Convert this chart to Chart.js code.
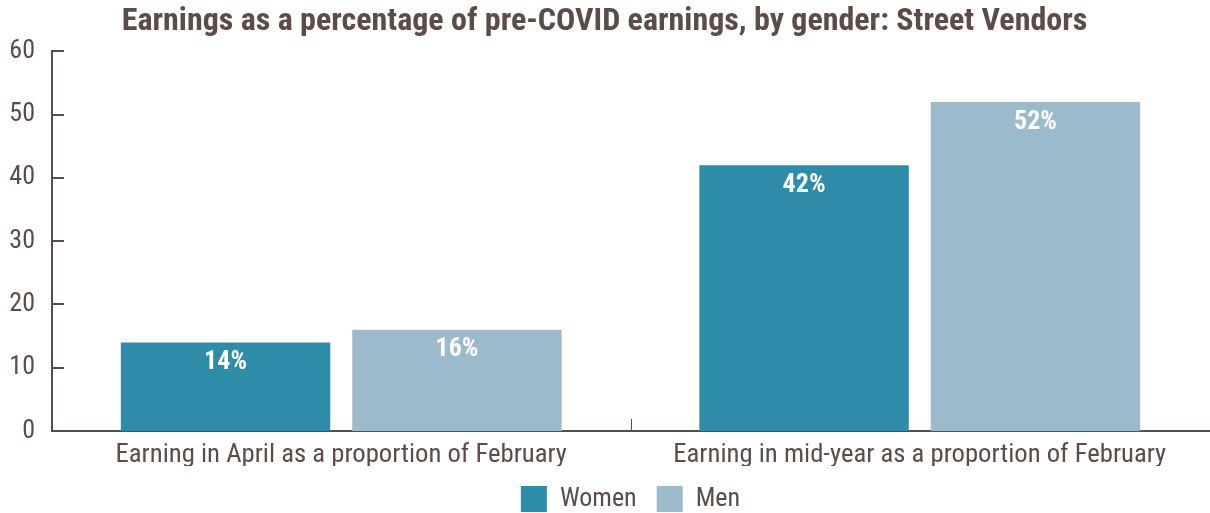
<!DOCTYPE html>
<html>
<head>
<meta charset="utf-8">
<script src="https://cdn.jsdelivr.net/npm/chart.js@4"></script>
<style>
  html, body { margin: 0; padding: 0; background: #fff; }
  #wrap { width: 1210px; height: 513px; }
</style>
</head>
<body>
<div id="wrap"><canvas id="chart"></canvas></div>
<script>
const categories = ["Earning in April as a proportion of February", "Earning in mid-year as a proportion of February"];
const seriesNames = ["Women", "Men"];
const womenValues = [14, 42];
const menValues = [16, 52];
const yTicks = [0, 10, 20, 30, 40, 50, 60];

const textColor = "#5b4c48";
const fontFamily = "'Roboto Condensed', 'Liberation Sans Narrow', Roboto, sans-serif";

// white labels inside the top of each bar, plus inward tick marks
const barLabels = {
  id: "barLabels",
  afterLayout(chart) {
    // legend sits centred under the plot area, not the whole canvas
    chart.legend.left = chart.chartArea.left;
    chart.legend.right = chart.chartArea.right;
  },
  afterDatasetsDraw(chart) {
    const ctx = chart.ctx;
    ctx.save();
    ctx.fillStyle = "#ffffff";
    ctx.font = "bold 26px " + fontFamily;
    ctx.textAlign = "center";
    ctx.textBaseline = "middle";
    chart.data.datasets.forEach((ds, i) => {
      chart.getDatasetMeta(i).data.forEach((bar, j) => {
        ctx.fillText(ds.data[j] + "%", bar.x, bar.y + 20);
      });
    });
    ctx.restore();
  },
  afterDraw(chart) {
    const ctx = chart.ctx;
    const x = chart.scales.x;
    const y = chart.scales.y;
    ctx.save();
    ctx.strokeStyle = textColor;
    ctx.lineWidth = 2;
    yTicks.forEach(v => {
      const py = Math.round(y.getPixelForValue(v));
      ctx.beginPath();
      ctx.moveTo(x.left, py);
      ctx.lineTo(x.left + 12, py);
      ctx.stroke();
    });
    ctx.lineWidth = 1;
    const mid = (x.getPixelForValue(0) + x.getPixelForValue(1)) / 2;
    ctx.beginPath();
    ctx.moveTo(Math.round(mid) + 0.5, y.bottom);
    ctx.lineTo(Math.round(mid) + 0.5, y.bottom - 12);
    ctx.stroke();
    ctx.restore();
  }
};

new Chart(document.getElementById("chart"), {
  type: "bar",
  data: {
    labels: categories,
    datasets: [
      { label: seriesNames[0], data: womenValues, backgroundColor: "#2f8ca9" },
      { label: seriesNames[1], data: menValues, backgroundColor: "#9bbacb" }
    ]
  },
  options: {
    responsive: true,
    maintainAspectRatio: false,
    animation: false,
    layout: { padding: { left: 0, right: 1, top: 0, bottom: -9 } },
    datasets: { bar: { barPercentage: 0.905, categoryPercentage: 0.8 } },
    plugins: {
      title: {
        display: true,
        text: "Earnings as a percentage of pre-COVID earnings, by gender: Street Vendors",
        color: textColor,
        font: { family: fontFamily, size: 32, weight: "bold" },
        padding: { top: 3, bottom: 10 }
      },
      legend: {
        position: "bottom",
        labels: {
          color: textColor,
          font: { family: fontFamily, size: 26 },
          boxWidth: 26,
          boxHeight: 26,
          padding: 20
        }
      },
      tooltip: { enabled: false }
    },
    scales: {
      x: {
        afterFit: s => { s.height = 35; },
        grid: { display: false, drawTicks: false },
        border: { color: textColor, width: 2 },
        ticks: { color: textColor, font: { family: fontFamily, size: 26.7 }, padding: 8 }
      },
      y: {
        min: 0,
        max: 60,
        afterBuildTicks: s => { s.ticks = yTicks.map(v => ({ value: v })); },
        afterFit: s => { s.width = 52; },
        grid: { display: false, drawTicks: false },
        border: { color: textColor, width: 2 },
        ticks: { color: textColor, font: { family: fontFamily, size: 26 }, padding: 17 }
      }
    }
  },
  plugins: [barLabels]
});
</script>
</body>
</html>
